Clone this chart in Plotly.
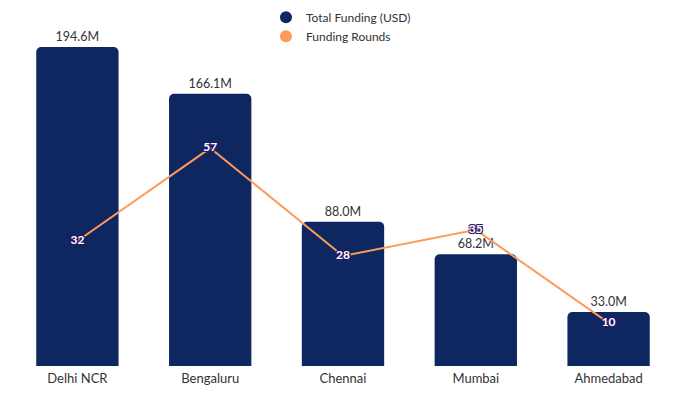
import plotly.graph_objects as go

cities = ["Delhi NCR", "Bengaluru", "Chennai", "Mumbai", "Ahmedabad"]
funding_musd = [194.6, 166.1, 88.0, 68.2, 33.0]
funding_rounds = [32, 57, 28, 35, 10]
funding_labels = [f"{v:.1f}M" for v in funding_musd]

BAR = "#0e2760"
LINE = "#ff9a5a"
FONT = "Lato, 'Open Sans', sans-serif"

fig = go.Figure()
fig.add_trace(go.Bar(
    x=cities, y=funding_musd, name="Total Funding (USD)",
    marker=dict(color=BAR, cornerradius=5, line=dict(width=0)),
    text=funding_labels, textposition="outside", cliponaxis=False,
    textfont=dict(family=FONT, size=12.5, color="#333333"),
    showlegend=False, hoverinfo="skip",
))
fig.add_trace(go.Scatter(
    x=cities, y=funding_rounds, name="Funding Rounds", yaxis="y2",
    mode="lines+text", line=dict(color=LINE, width=2),
    text=[str(v) for v in funding_rounds], textposition="middle center",
    textfont=dict(family=FONT, size=12, color="white", weight="bold",
                  shadow="1px 1px 0 #2a1466, -1px -1px 0 #2a1466, 1px -1px 0 #2a1466, -1px 1px 0 #2a1466"),
    showlegend=False, hoverinfo="skip", cliponaxis=False,
))
# legend entries (circle symbols)
fig.add_trace(go.Scatter(x=[None], y=[None], mode="markers", name="Total Funding (USD)",
                         marker=dict(color=BAR, size=11, symbol="circle")))
fig.add_trace(go.Scatter(x=[None], y=[None], mode="markers", name="Funding Rounds",
                         marker=dict(color=LINE, size=11, symbol="circle")))

fig.update_layout(
    width=688, height=398,
    margin=dict(l=2.5, r=20.5, t=14, b=40, autoexpand=False),
    paper_bgcolor="white", plot_bgcolor="white",
    font=dict(family=FONT, size=12, color="#333333"),
    bargap=0.38,
    xaxis=dict(showgrid=False, showline=False, zeroline=False, ticks="",
               ticklabelstandoff=3,
               tickfont=dict(family=FONT, size=13, color="#333333")),
    yaxis=dict(range=[0, 209.9], visible=False, showgrid=False, zeroline=False),
    yaxis2=dict(range=[-1.6, 90.9], overlaying="y", side="right", visible=False,
                showgrid=False, zeroline=False),
    legend=dict(orientation="v", x=0.384, xanchor="left", y=1.056, yanchor="top",
                bgcolor="rgba(0,0,0,0)", font=dict(family=FONT, size=12, color="#333333"),
                itemsizing="constant", tracegroupgap=0),
)

fig.write_html("out.html")
